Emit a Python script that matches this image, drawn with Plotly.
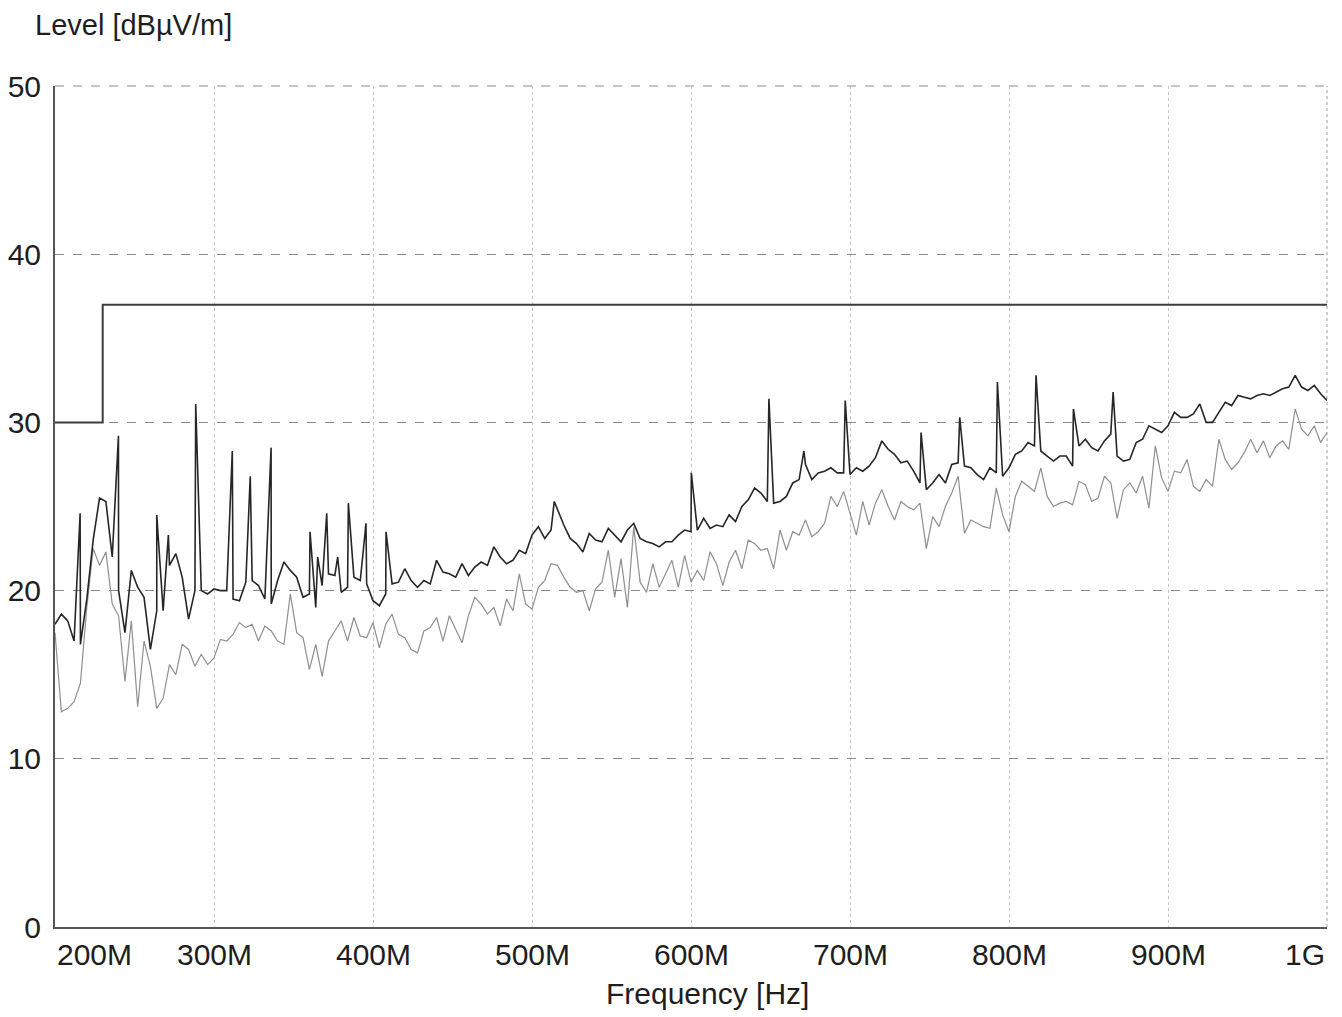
import numpy as np
import plotly.graph_objects as go

# ---------------- data (frequencies in MHz, levels in dBµV/m) ----------------
base_freq = list(range(200, 1001, 4))

peak_level = [
    18.0, 18.6, 18.2, 17.0, 16.8, 19.5, 23.0, 25.5, 25.3, 22.0,
    20.0, 17.5, 21.2, 20.2, 19.6, 16.5, 18.8, 18.8, 21.5, 22.2,
    20.8, 18.3, 20.0, 20.0, 19.8, 20.1, 20.0, 20.0, 19.5, 19.4,
    20.5, 20.6, 20.3, 19.5, 19.2, 20.6, 21.7, 21.2, 20.8, 19.6,
    19.8, 19.0, 20.3, 21.0, 20.9, 19.9, 20.2, 20.8, 20.6, 20.4,
    19.4, 19.1, 19.8, 20.4, 20.5, 21.3, 20.6, 20.2, 20.6, 20.4,
    21.8, 21.1, 21.0, 20.8, 21.6, 20.9, 21.4, 21.7, 21.5, 22.6,
    22.0, 21.6, 21.8, 22.4, 22.2, 23.3, 23.8, 23.1, 23.6, 24.8,
    23.9, 23.1, 22.8, 22.3, 23.4, 23.0, 22.9, 23.7, 23.3, 22.9,
    23.6, 24.0, 23.1, 22.9, 22.8, 22.6, 22.9, 22.9, 23.3, 23.6,
    23.5, 23.6, 24.3, 23.7, 23.9, 23.8, 24.5, 24.1, 25.0, 25.4,
    26.1, 25.8, 25.3, 25.2, 25.3, 25.6, 26.4, 26.6, 27.5, 26.6,
    27.0, 27.1, 27.3, 27.0, 27.0, 26.9, 27.3, 27.1, 27.4, 27.9,
    28.9, 28.4, 28.1, 27.6, 27.7, 27.1, 26.4, 26.0, 26.4, 26.9,
    26.4, 27.5, 27.6, 27.4, 27.3, 26.9, 26.6, 27.3, 27.0, 26.8,
    27.3, 28.1, 28.3, 28.8, 28.6, 28.3, 28.0, 27.7, 28.0, 28.0,
    27.4, 28.6, 29.0, 28.5, 28.3, 28.9, 29.3, 28.0, 27.7, 27.8,
    28.8, 29.0, 29.8, 29.6, 29.4, 29.8, 30.6, 30.3, 30.3, 30.5,
    31.1, 30.0, 30.0, 30.6, 31.2, 31.0, 31.6, 31.5, 31.4, 31.6,
    31.7, 31.6, 31.8, 32.0, 32.1, 32.8, 32.1, 31.9, 32.2, 31.7,
    31.3,
]

peak_spike_freq = [215.8, 239.9, 264.0, 271.3, 288.5, 311.5, 322.8, 335.9,
                   360.4, 365.2, 370.9, 377.8, 384.5, 395.6, 408.2, 514.0,
                   600.2, 649.0, 671.0, 697.0, 744.7, 769.0, 792.7, 817.0,
                   840.5, 865.5]
peak_spike_level = [24.6, 29.2, 24.5, 23.3, 31.1, 28.3, 26.8, 28.5,
                    23.5, 22.0, 24.6, 22.0, 25.2, 24.0, 23.5, 25.3,
                    27.0, 31.4, 28.3, 31.3, 29.4, 30.3, 32.4, 32.8,
                    30.8, 31.8]

avg_level = [
    17.5, 12.8, 13.0, 13.4, 14.5, 19.0, 22.5, 21.5, 22.3, 19.2,
    18.5, 14.6, 18.2, 13.1, 17.0, 15.5, 13.0, 13.6, 15.6, 15.0,
    16.8, 16.5, 15.5, 16.2, 15.6, 16.0, 17.1, 17.0, 17.4, 18.1,
    17.8, 18.0, 17.0, 17.9, 17.6, 17.0, 16.8, 19.8, 17.5, 17.2,
    15.3, 16.8, 14.9, 17.0, 17.6, 18.2, 17.0, 18.4, 17.3, 17.2,
    18.1, 16.6, 18.0, 18.6, 17.4, 17.2, 16.5, 16.3, 17.6, 17.8,
    18.4, 17.0, 18.5, 17.7, 16.9, 18.5, 19.6, 19.2, 18.6, 19.0,
    17.9, 19.5, 18.8, 21.0, 19.2, 18.9, 20.2, 20.6, 21.6, 21.5,
    20.8, 20.2, 19.9, 20.0, 18.8, 20.1, 20.5, 22.4, 19.6, 21.9,
    19.0, 23.8, 20.5, 19.9, 21.6, 20.2, 21.0, 21.8, 20.2, 22.1,
    20.5, 21.2, 20.6, 22.3, 21.6, 20.3, 21.7, 22.4, 21.3, 23.0,
    22.8, 22.4, 22.5, 21.3, 23.6, 22.4, 23.5, 23.3, 24.2, 23.2,
    23.5, 24.0, 25.6, 25.0, 25.9, 24.6, 23.3, 25.3, 23.9, 25.2,
    26.0, 25.0, 24.2, 25.3, 25.0, 24.8, 25.2, 22.5, 24.4, 23.8,
    25.0, 25.8, 26.8, 23.4, 24.2, 24.0, 23.8, 23.7, 26.1, 24.5,
    23.5, 25.6, 26.5, 26.2, 25.9, 27.3, 25.6, 25.0, 25.2, 25.3,
    25.1, 26.5, 26.3, 25.3, 25.5, 26.8, 26.4, 24.3, 26.0, 26.4,
    25.8, 26.8, 24.9, 28.6, 26.7, 25.9, 27.1, 27.0, 27.8, 26.2,
    25.9, 26.6, 26.2, 29.0, 27.8, 27.2, 27.6, 28.2, 29.0, 28.2,
    28.9, 27.9, 28.6, 28.9, 28.4, 30.8, 29.6, 29.2, 29.8, 28.8,
    29.4,
]

limit_freq = [200, 230, 230, 1000]
limit_level = [30, 30, 37, 37]

tick_freq = [200, 300, 400, 500, 600, 700, 800, 900, 1000]
tick_text = ["200M", "300M", "400M", "500M", "600M", "700M", "800M", "900M", "1G"]
ytick_vals = [0, 10, 20, 30, 40, 50]

# merge base sweep with narrow spikes
pf = np.array(base_freq + peak_spike_freq, dtype=float)
pl = np.array(peak_level + peak_spike_level, dtype=float)
order = np.argsort(pf, kind="stable")
pf, pl = pf[order], pl[order]

FONT = "Liberation Sans, Arial, sans-serif"
TXT = "#1e1e1e"
FS = 30

fig = go.Figure()
fig.add_trace(go.Scatter(x=base_freq, y=avg_level, mode="lines",
                         line=dict(color="#8f8f8f", width=1.2), showlegend=False))
fig.add_trace(go.Scatter(x=pf, y=pl, mode="lines",
                         line=dict(color="#262626", width=1.6), showlegend=False))
fig.add_trace(go.Scatter(x=limit_freq, y=limit_level, mode="lines",
                         line=dict(color="#3c3c3c", width=2), showlegend=False))

# page body has an 8px margin, so the figure is shrunk by it
fig.update_layout(
    width=1334, height=1009,
    margin=dict(l=47, r=15, t=78, b=90, autoexpand=False),
    paper_bgcolor="white", plot_bgcolor="white",
    font=dict(family=FONT, size=FS, color=TXT),
)
fig.update_xaxes(range=[200, 1000], tickvals=tick_freq, showticklabels=False,
                 showgrid=True, gridcolor="#c4c4c4", griddash="dot", gridwidth=1,
                 showline=True, linecolor="#555555", linewidth=2, zeroline=False,
                 ticks="", automargin=False)
fig.update_yaxes(range=[0, 50], tickvals=ytick_vals, showgrid=True,
                 gridcolor="#8a8a8a", griddash="dash", gridwidth=1,
                 showline=True, linecolor="#555555", linewidth=2, zeroline=False,
                 ticks="", ticklabelstandoff=6, automargin=False,
                 tickfont=dict(family=FONT, size=FS, color=TXT))

# frame: dashed top edge (50 grid line) and dotted right edge (1G grid line)
fig.add_shape(type="line", xref="paper", yref="paper", x0=0, x1=1, y0=1, y1=1,
              line=dict(color="#8a8a8a", width=1, dash="dash"), layer="below")
fig.add_shape(type="line", xref="paper", yref="paper", x0=1, x1=1, y0=0, y1=1,
              line=dict(color="#a0a0a0", width=1, dash="dot"), layer="below")

# x tick labels (first left-aligned, last right-aligned like the original)
for i, (f, t) in enumerate(zip(tick_freq, tick_text)):
    anchor = "left" if i == 0 else ("right" if i == len(tick_freq) - 1 else "center")
    fig.add_annotation(x=f, y=0, xref="x", yref="paper", text=t, showarrow=False,
                       xanchor=anchor, yanchor="top", yshift=-9,
                       font=dict(family=FONT, size=FS, color=TXT))

fig.add_annotation(xref="paper", yref="paper", x=(707 - 55) / 1272, y=-(993 - 927) / 841,
                   text="Frequency [Hz]", showarrow=False, xanchor="center", yanchor="middle",
                   font=dict(family=FONT, size=FS, color=TXT))
fig.add_annotation(xref="paper", yref="paper", x=(33 - 55) / 1272, y=(927 - 25) / 841,
                   text="Level [dBµV/m]", showarrow=False, xanchor="left", yanchor="middle",
                   font=dict(family=FONT, size=29, color=TXT))

fig.write_html("out.html")
